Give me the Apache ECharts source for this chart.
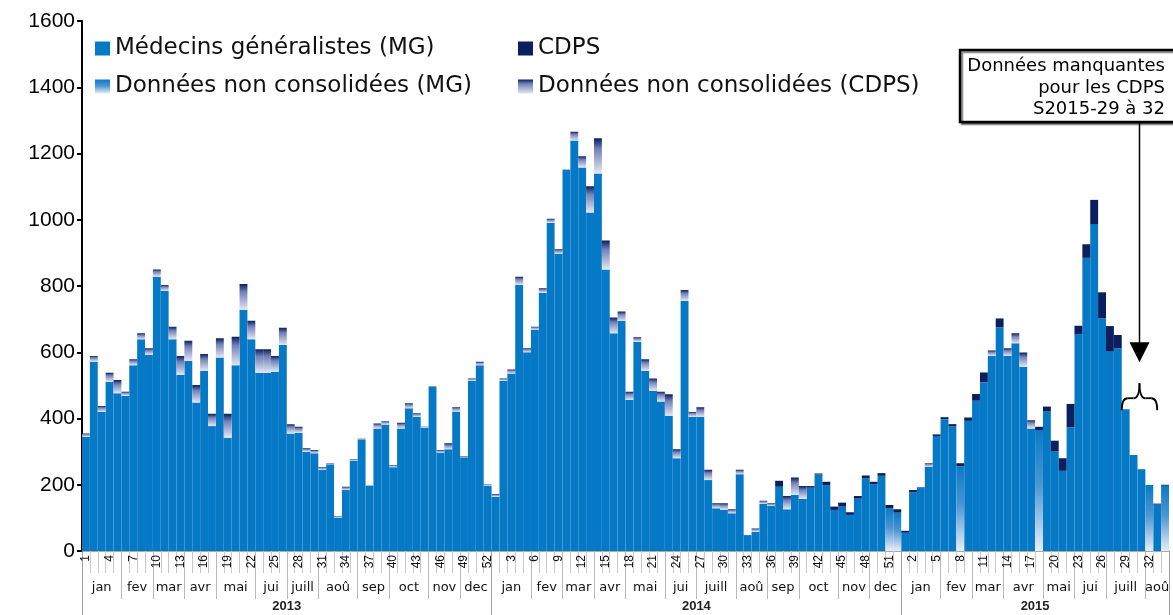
<!DOCTYPE html>
<html><head><meta charset="utf-8">
<script src="https://cdn.jsdelivr.net/npm/echarts@6/dist/echarts.min.js"></script>
<style>html,body{margin:0;padding:0;background:#fff}#c{width:1173px;height:615px}</style>
</head><body><div id="c"></div>
<script>
// ---------- DATA ----------
const years = ['2013', '2014', '2015'];
const weeksPerYear = [52, 52, 34];

// months per year: [label, number of weeks]
const months2013 = [['jan',5],['fev',4],['mar',4],['avr',4],['mai',5],['jui',4],['juill',4],['aoû',5],['sep',4],['oct',5],['nov',4],['dec',4]];
const months2014 = [['jan',5],['fev',4],['mar',4],['avr',4],['mai',5],['jui',4],['juill',5],['aoû',4],['sep',4],['oct',5],['nov',4],['dec',4]];
const months2015 = [['jan',5],['fev',4],['mar',4],['avr',5],['mai',4],['jui',4],['juill',5],['aoû',3]];

// Médecins généralistes (MG), consolidated
const mg2013 = [345,571,420,511,476,469,561,639,592,828,785,639,531,574,448,544,377,584,342,561,728,639,538,538,541,622,355,357,300,295,245,262,101,184,273,337,197,370,382,253,370,431,405,373,495,297,307,421,283,514,561,197];
const mg2014 = [164,514,536,803,600,669,780,991,897,1151,1239,1158,1022,1140,850,657,694,456,632,544,484,451,408,280,755,405,405,214,129,125,114,232,48,58,142,136,194,126,169,157,191,231,199,124,134,109,158,220,201,227,0,0];
const mg2015 = [55,177,190,255,347,398,376,0,393,454,509,589,675,589,627,556,370,0,421,300,242,373,655,885,987,702,602,612,428,290,247,0,140,0];

// Données non consolidées (MG)
const mgNc2013 = [0,0,0,0,0,0,0,0,0,0,0,0,0,0,0,0,0,0,0,0,0,0,0,0,0,0,0,0,0,0,0,0,0,0,0,0,0,0,0,0,0,0,0,0,0,0,0,0,0,0,0,0];
const mgNc2014 = [0,0,0,0,0,0,0,0,0,0,0,0,0,0,0,0,0,0,0,0,0,0,0,0,0,0,0,0,0,0,0,0,0,0,0,0,0,0,0,0,0,0,0,0,0,0,0,0,0,0,129,116];
const mgNc2015 = [0,0,0,0,0,0,0,256,0,0,0,0,0,0,0,0,0,365,0,0,0,0,0,0,0,0,0,0,0,0,0,199,0,197];

// CDPS, consolidated
const cdps2013 = [0,0,0,0,0,0,0,0,0,0,0,0,0,0,0,0,0,0,0,0,0,0,0,0,0,0,0,0,0,0,0,0,0,0,0,0,0,0,0,0,0,0,0,0,0,0,0,0,0,0,0,0];
const cdps2014 = [0,0,0,0,0,0,0,0,0,0,0,0,0,0,0,0,0,0,0,0,0,0,0,0,0,0,0,0,0,0,0,0,0,0,0,0,18,0,0,0,5,3,10,10,12,8,8,8,8,8,10,10];
const cdps2015 = [6,7,2,0,5,6,7,9,10,20,30,0,27,0,0,0,0,10,15,33,38,71,25,41,73,79,77,40,0,0,0,0,3,3];

// Données non consolidées (CDPS)
const cdpsNc2013 = [10,18,18,27,40,12,18,18,20,22,18,38,58,61,53,51,37,58,72,86,78,56,71,71,48,52,28,18,10,10,8,3,3,10,5,2,2,15,10,7,17,15,11,2,3,8,18,13,2,7,10,4];
const cdpsNc2014 = [8,7,12,25,12,8,13,12,14,2,27,34,79,106,87,48,29,25,13,35,37,30,65,27,33,15,29,31,15,19,12,13,0,10,10,8,0,40,53,39,0,0,0,0,0,0,0,0,0,0,0,0];
const cdpsNc2015 = [0,0,0,10,0,0,0,0,0,0,0,16,0,23,30,43,25,0,0,0,0,0,0,0,0,0,0,0,0,0,0,0,0,0];

const yTicks = {min: 0, max: 1600, interval: 200};
const annotationText = ['Données manquantes', 'pour les CDPS', 'S2015-29 à 32'];
const missingRange = {year: 2, from: 29, to: 32};

// ---------- BUILD ----------
const weekLabels = [];
weeksPerYear.forEach(n => { for (let w = 1; w <= n; w++) weekLabels.push(String(w)); });
const totalWeeks = weekLabels.length;

const mg = mg2013.concat(mg2014, mg2015);
const mgNc = mgNc2013.concat(mgNc2014, mgNc2015);
const cdps = cdps2013.concat(cdps2014, cdps2015);
const cdpsNc = cdpsNc2013.concat(cdpsNc2014, cdpsNc2015);

const monthBounds = [], monthCenters = [], monthNameAt = {};
let pos = 0;
[months2013, months2014, months2015].forEach(list => {
  list.forEach(([name, n]) => {
    monthBounds.push(pos);
    const c = pos + n / 2;
    monthCenters.push(c);
    monthNameAt[String(c)] = name;
    pos += n;
  });
});
monthBounds.push(pos);

const yearBounds = [0], yearCenters = [], yearNameAt = {};
pos = 0;
weeksPerYear.forEach((n, k) => {
  const c = pos + n / 2;
  yearCenters.push(c); yearNameAt[String(c)] = years[k];
  pos += n; yearBounds.push(pos);
});

const BLUE = '#0679c6';
const NAVY = '#0b1f5e';
const gradMG = new echarts.graphic.LinearGradient(0, 0, 0, 1, [
  {offset: 0, color: '#0a7ac6'}, {offset: 0.45, color: '#4a95d2'}, {offset: 1, color: '#e8eef8'}]);
const gradCDPS = new echarts.graphic.LinearGradient(0, 0, 0, 1, [
  {offset: 0, color: '#0b1f5e'}, {offset: 0.3, color: '#7080b6'}, {offset: 1, color: '#e3e8f4'}]);

const barBase = {type: 'bar', stack: 'total', barCategoryGap: '0%', barGap: '0%', animation: false};

const chart = echarts.init(document.getElementById('c'), null, {renderer: 'canvas'});
const legendText = {fontSize: 23, fontFamily: 'DejaVu Sans', color: '#111', lineHeight: 22};

chart.setOption({
  animation: false,
  grid: {left: 82, right: 4, top: 21, bottom: 64, containLabel: false},
  legend: [
    {data: ['Médecins généralistes (MG)', 'Données non consolidées (MG)'], orient: 'vertical',
     left: 90, top: 32, itemWidth: 15, itemHeight: 14, itemGap: 15, icon: 'rect',
     selectedMode: false, textStyle: legendText},
    {data: ['CDPS', 'Données non consolidées (CDPS)'], orient: 'vertical',
     left: 513, top: 32, itemWidth: 15, itemHeight: 14, itemGap: 15, icon: 'rect',
     selectedMode: false, textStyle: legendText}
  ],
  xAxis: [
    {type: 'category', data: weekLabels, position: 'bottom',
     axisLine: {show: true, lineStyle: {color: '#a8a8a8', width: 2}},
     axisTick: {show: true, interval: 0, length: 22, lineStyle: {color: '#c8c8c8'}},
     axisLabel: {interval: 2, rotate: 90, margin: 4, fontSize: 12, fontFamily: 'Liberation Sans', color: '#111'},
     splitLine: {show: false}},
    {type: 'value', min: 0, max: totalWeeks, position: 'bottom',
     axisLine: {show: false}, splitLine: {show: false},
     axisTick: {show: true, customValues: monthBounds, length: 48, lineStyle: {color: '#b8b8b8'}},
     axisLabel: {customValues: monthCenters, formatter: v => monthNameAt[String(v)] || '',
                 margin: 30, fontSize: 13, fontFamily: 'DejaVu Sans', color: '#111'}},
    {type: 'value', min: 0, max: totalWeeks, position: 'bottom',
     axisLine: {show: false}, splitLine: {show: false},
     axisTick: {show: true, customValues: yearBounds, length: 70, lineStyle: {color: '#a0a0a0'}},
     axisLabel: {customValues: yearCenters, formatter: v => yearNameAt[String(v)] || '',
                 margin: 49, fontSize: 13, fontWeight: 'bold', fontFamily: 'Liberation Sans', color: '#222'}}
  ],
  yAxis: {type: 'value', min: yTicks.min, max: yTicks.max, interval: yTicks.interval,
    axisLine: {show: true, lineStyle: {color: '#000', width: 2}},
    axisTick: {show: true, length: 5, lineStyle: {color: '#000', width: 2}},
    axisLabel: {fontSize: 21, fontFamily: 'Liberation Sans', color: '#000', margin: 7, formatter: v => String(v)},
    splitLine: {show: false}},
  series: [
    Object.assign({name: 'Médecins généralistes (MG)', data: mg, itemStyle: {color: BLUE}}, barBase),
    Object.assign({name: 'Données non consolidées (MG)', data: mgNc, itemStyle: {color: gradMG}}, barBase),
    Object.assign({name: 'CDPS', data: cdps, itemStyle: {color: NAVY}}, barBase),
    Object.assign({name: 'Données non consolidées (CDPS)', data: cdpsNc, itemStyle: {color: gradCDPS}}, barBase)
  ]
});

// ---------- ANNOTATION ----------
const yearStart = weeksPerYear.slice(0, missingRange.year).reduce((a, b) => a + b, 0);
const iFrom = yearStart + missingRange.from - 1;
const iTo = yearStart + missingRange.to - 1;
const x1 = chart.convertToPixel({xAxisIndex: 1}, iFrom);
const x2 = chart.convertToPixel({xAxisIndex: 1}, iTo + 1) + 4;
const mid = (x1 + x2) / 2;
const topVal = mg[iFrom] + mgNc[iFrom] + cdps[iFrom] + cdpsNc[iFrom];
const yb = chart.convertToPixel({yAxisIndex: 0}, topVal) + 1;
const ym = yb - 12, yt = ym - 15;
const arrowTip = yt - 21;
const braceStyle = {stroke: '#000', lineWidth: 1.8, fill: null};

chart.setOption({
  graphic: [
    {type: 'rect', shape: {x: 960, y: 50, width: 240, height: 72},
     style: {fill: '#fff', stroke: '#000', lineWidth: 2.5, shadowColor: 'rgba(0,0,0,0.45)', shadowOffsetX: 2, shadowOffsetY: 2, shadowBlur: 1}, z: 10},
    {type: 'text', x: 1165, y: 56, z: 11,
     style: {text: annotationText.join('\n'), align: 'right', verticalAlign: 'top',
             font: '18px "DejaVu Sans"', lineHeight: 21.5, fill: '#000'}},
    {type: 'line', shape: {x1: mid, y1: 123, x2: mid, y2: arrowTip - 18}, style: {stroke: '#000', lineWidth: 1.5}, z: 10},
    {type: 'polygon', shape: {points: [[mid - 10, arrowTip - 20], [mid + 10, arrowTip - 20], [mid, arrowTip]]}, style: {fill: '#000'}, z: 10},
    {type: 'bezierCurve', shape: {x1: x1, y1: yb, x2: x1 + 6, y2: ym, cpx1: x1, cpy1: ym}, style: braceStyle, z: 10},
    {type: 'line', shape: {x1: x1 + 6, y1: ym, x2: mid - 6, y2: ym}, style: braceStyle, z: 10},
    {type: 'bezierCurve', shape: {x1: mid - 6, y1: ym, x2: mid, y2: yt, cpx1: mid, cpy1: ym}, style: braceStyle, z: 10},
    {type: 'bezierCurve', shape: {x1: mid, y1: yt, x2: mid + 6, y2: ym, cpx1: mid, cpy1: ym}, style: braceStyle, z: 10},
    {type: 'line', shape: {x1: mid + 6, y1: ym, x2: x2 - 6, y2: ym}, style: braceStyle, z: 10},
    {type: 'bezierCurve', shape: {x1: x2 - 6, y1: ym, x2: x2, y2: yb, cpx1: x2, cpy1: ym}, style: braceStyle, z: 10}
  ]
});
</script>
</body></html>
